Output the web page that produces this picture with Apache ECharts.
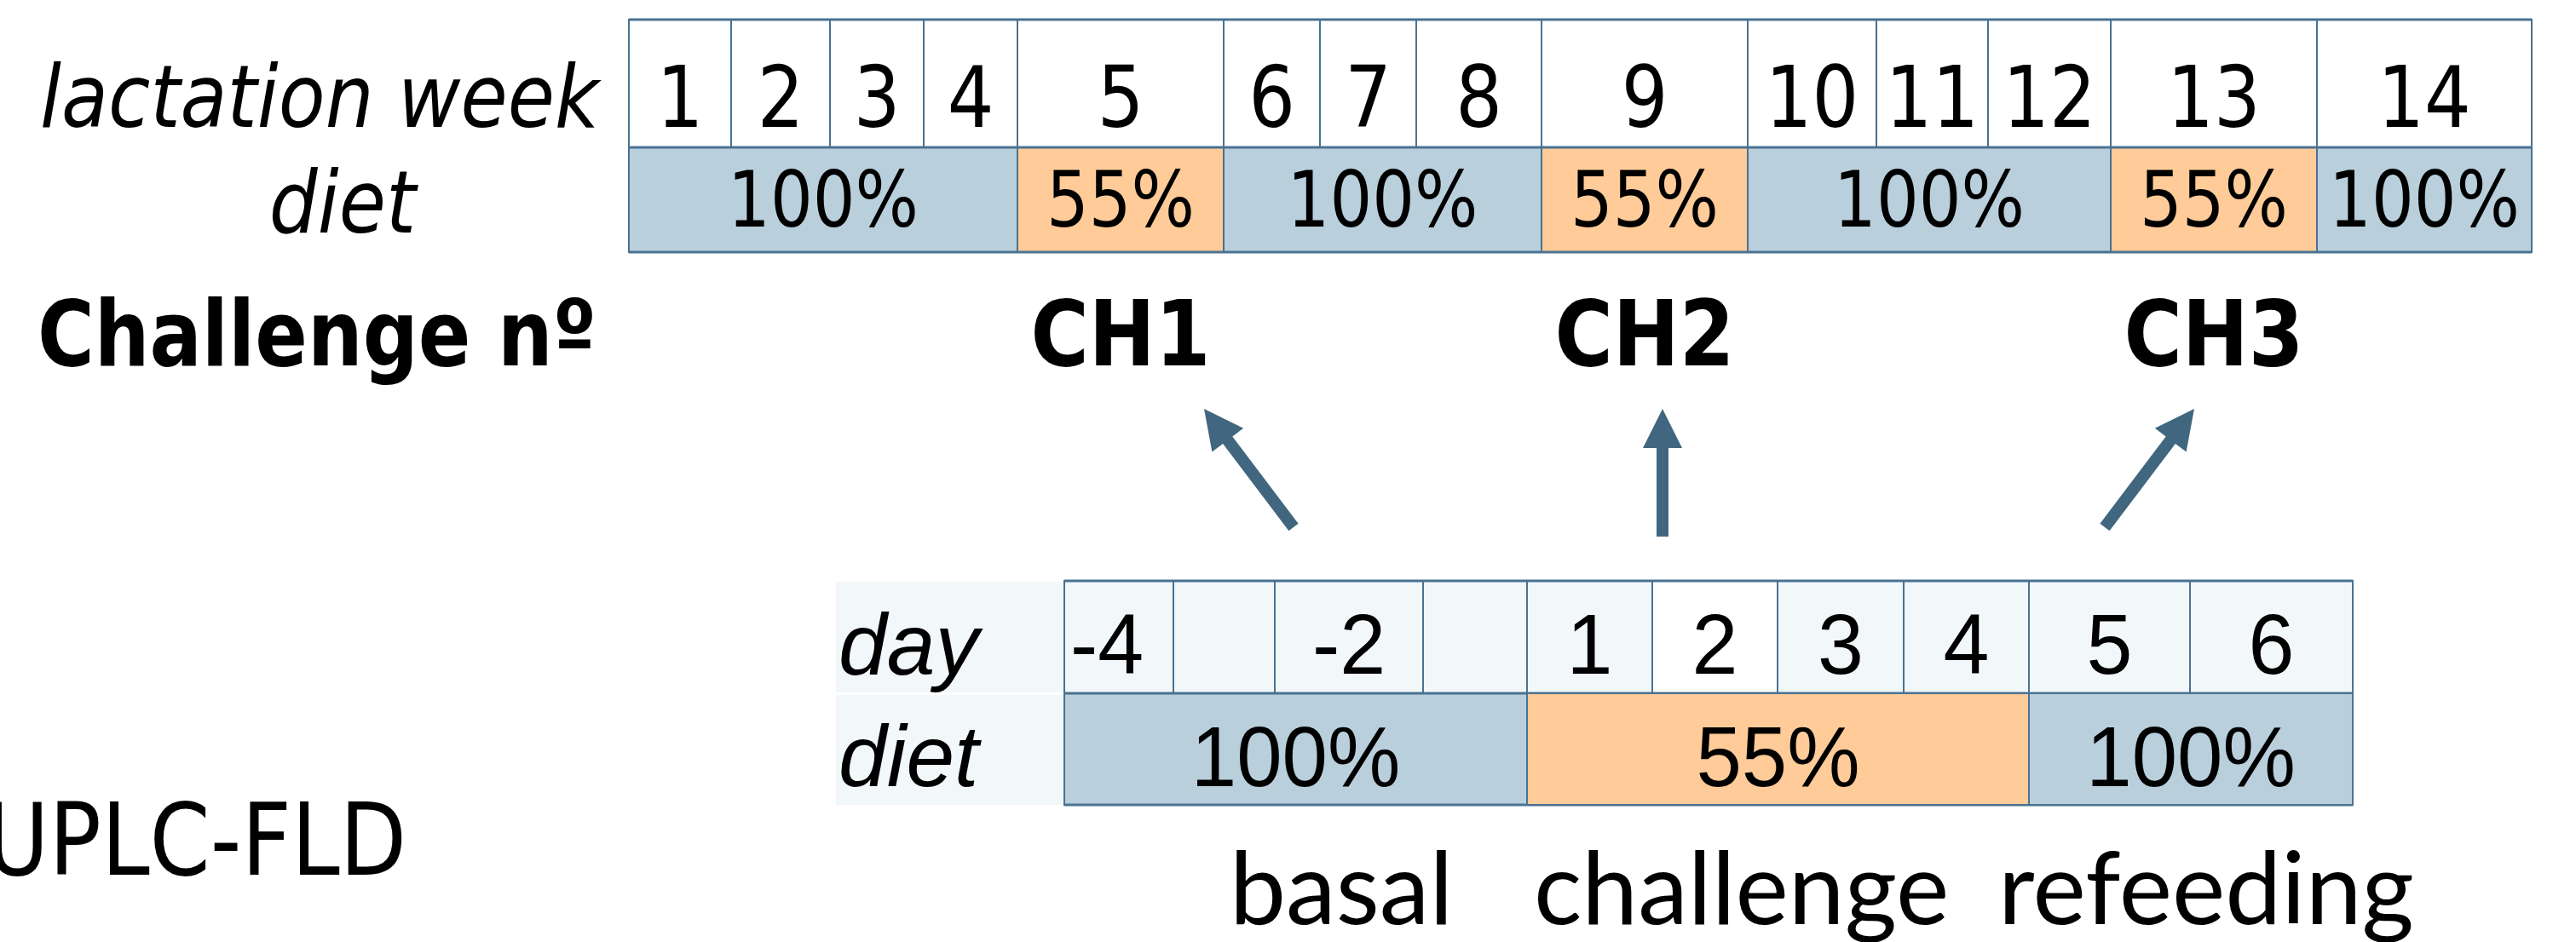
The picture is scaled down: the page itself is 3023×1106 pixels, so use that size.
<!DOCTYPE html>
<html>
<head>
<meta charset="utf-8">
<style>
html,body{margin:0;padding:0;background:#fff;}
#main{width:3023px;height:1106px;}
</style>
<script src="https://cdn.jsdelivr.net/npm/echarts@6/dist/echarts.min.js"></script>
</head>
<body>
<div id="main"></div>
<script>
// ---- data ----
var weeks = ['1','2','3','4','5','6','7','8','9','10','11','12','13','14'];
var weekRowLabels = ['lactation week', 'diet'];
var dietFrom = [1, 5, 6, 9, 10, 13, 14];
var dietTo   = [4, 5, 8, 9, 12, 13, 14];
var dietLevel = ['100%', '55%', '100%', '55%', '100%', '55%', '100%'];
var challenges = ['CH1', 'CH2', 'CH3'];
var challengeWeek = [5, 9, 13];
var days = ['-4', '', '-2', '', '1', '2', '3', '4', '5', '6'];
var dayRowLabels = ['day', 'diet'];
var dayDietFrom = [0, 4, 8];
var dayDietTo   = [3, 7, 9];
var dayDietLevel = ['100%', '55%', '100%'];
var phases = ['basal', 'challenge', 'refeeding'];

// ---- layout (px) ----
var weekEdges = [738, 858, 974, 1084, 1194, 1436, 1549, 1662, 1809, 2051, 2202, 2333, 2477, 2719, 2971];
var topY = [23, 173, 296];
var dayEdges = [1249, 1377, 1496, 1670, 1792, 1939, 2086, 2234, 2381, 2570, 2761];
var botY = [682, 814, 945];
var arrowTail = [[1518, 619], [1951, 630], [2470, 619]];
var arrowTip  = [[1413, 480], [1951, 480], [2575, 480]];
var phaseLeft = [1450, 1807, 2352];

var BORDER = '#4A7291';
var BLUE = '#B9CFDC';
var ORANGE = '#FECB99';
var PALE = '#F2F7FA';
var ARROW = '#40677F';

function fillOf(level) { return level === '55%' ? ORANGE : BLUE; }

function rectEl(api, x0, y0, x1, y1, fill, stroke, lw) {
  var a = api.coord([x0, y0]), b = api.coord([x1, y1]);
  return {
    type: 'rect',
    shape: { x: a[0], y: a[1], width: b[0] - a[0], height: b[1] - a[1] },
    style: { fill: fill, stroke: stroke || null, lineWidth: lw || 0 }
  };
}
function lineEl(api, x0, y0, x1, y1, color, lw) {
  var a = api.coord([x0, y0]), b = api.coord([x1, y1]);
  return {
    type: 'line',
    shape: { x1: a[0], y1: a[1], x2: b[0], y2: b[1] },
    style: { stroke: color, lineWidth: lw }
  };
}
// base = text baseline, size = font size
function textEl(api, x, base, str, font, size, align, sx) {
  var p = api.coord([x, base - 0.3 * size]);
  return {
    type: 'text',
    x: p[0], y: p[1],
    scaleX: sx || 1,
    style: { text: str, x: 0, y: 0, font: font, fill: '#000', align: align || 'center', verticalAlign: 'middle' }
  };
}
function arrowEl(api, tail, tip) {
  var t = api.coord(tail), p = api.coord(tip);
  var dx = p[0] - t[0], dy = p[1] - t[1];
  var len = Math.sqrt(dx * dx + dy * dy);
  var ux = dx / len, uy = dy / len, nx = -uy, ny = ux;
  var hl = 46, hh = 23, sh = 7;
  var bx = p[0] - ux * hl, by = p[1] - uy * hl;
  return {
    type: 'polygon',
    shape: { points: [
      [t[0] + nx * sh, t[1] + ny * sh], [bx + nx * sh, by + ny * sh], [bx + nx * hh, by + ny * hh],
      [p[0], p[1]],
      [bx - nx * hh, by - ny * hh], [bx - nx * sh, by - ny * sh], [t[0] - nx * sh, t[1] - ny * sh]
    ] },
    style: { fill: ARROW }
  };
}
function idx(arr) { return arr.map(function (v, i) { return [i]; }); }

var DV = '"DejaVu Sans"';
var LIB = '"Liberation Sans"';

var option = {
  animation: false,
  backgroundColor: '#ffffff',
  grid: { left: 0, right: 0, top: 0, bottom: 0 },
  xAxis: { type: 'value', min: 0, max: 3023, show: false },
  yAxis: { type: 'value', min: 0, max: 1106, inverse: true, show: false },
  series: [
    { // week cells
      type: 'custom', clip: false, data: idx(weeks),
      renderItem: function (params, api) {
        var i = params.dataIndex;
        var x0 = weekEdges[i], x1 = weekEdges[i + 1];
        return { type: 'group', children: [
          rectEl(api, x0, topY[0], x1, topY[1], '#ffffff', BORDER, 2),
          textEl(api, (x0 + x1) / 2, 153, weeks[i], '100px ' + DV, 100, 'center', 0.86)
        ] };
      }
    },
    { // diet periods (weeks)
      type: 'custom', clip: false, data: idx(dietLevel),
      renderItem: function (params, api) {
        var i = params.dataIndex;
        var x0 = weekEdges[dietFrom[i] - 1], x1 = weekEdges[dietTo[i]];
        return { type: 'group', children: [
          rectEl(api, x0, topY[1], x1, topY[2], fillOf(dietLevel[i]), BORDER, 2),
          textEl(api, (x0 + x1) / 2, 270, dietLevel[i], '90px ' + DV, 90, 'center', 0.87)
        ] };
      }
    },
    { // top row labels + frame lines
      type: 'custom', clip: false, data: idx(weekRowLabels),
      renderItem: function (params, api) {
        var i = params.dataIndex;
        var lx = [375, 402], base = [153, 277];
        var kids = [textEl(api, lx[i], base[i], weekRowLabels[i], 'italic 102px ' + DV, 102, 'center', 0.88)];
        if (i === 0) {
          topY.forEach(function (y) {
            kids.push(lineEl(api, weekEdges[0], y, weekEdges[weekEdges.length - 1], y, BORDER, 3));
          });
        }
        return { type: 'group', children: kids };
      }
    },
    { // challenges + arrows
      type: 'custom', clip: false, data: idx(challenges),
      renderItem: function (params, api) {
        var i = params.dataIndex;
        var w = challengeWeek[i];
        var cx = (weekEdges[w - 1] + weekEdges[w]) / 2;
        var kids = [
          textEl(api, cx, 433, challenges[i], 'bold 107px ' + DV, 107, 'center', 0.87),
          arrowEl(api, arrowTail[i], arrowTip[i])
        ];
        if (i === 0) kids.push(textEl(api, 44, 433, 'Challenge n\u00ba', 'bold 107px ' + DV, 107, 'left', 0.85));
        return { type: 'group', children: kids };
      }
    },
    { // day row labels, pale background
      type: 'custom', clip: false, data: idx(dayRowLabels),
      renderItem: function (params, api) {
        var i = params.dataIndex;
        var kids = [
          rectEl(api, 981, botY[i] + (i ? 2 : 1), dayEdges[0], botY[i + 1] - (i ? 0 : 1), PALE),
          textEl(api, 984, i ? 925 : 794, dayRowLabels[i], 'italic 102px ' + LIB, 102, 'left', 1)
        ];
        return { type: 'group', children: kids };
      }
    },
    { // day cells
      type: 'custom', clip: false, data: idx(days),
      renderItem: function (params, api) {
        var i = params.dataIndex;
        var x0 = dayEdges[i], x1 = dayEdges[i + 1];
        var cx = (x0 + x1) / 2 - (i === 0 ? 14 : 0);
        return { type: 'group', children: [
          rectEl(api, x0, botY[0], x1, botY[1], days[i] === '2' ? '#ffffff' : PALE, BORDER, 2),
          textEl(api, cx, 793, days[i], '100px ' + LIB, 100, 'center', 0.97)
        ] };
      }
    },
    { // diet periods (days)
      type: 'custom', clip: false, data: idx(dayDietLevel),
      renderItem: function (params, api) {
        var i = params.dataIndex;
        var x0 = dayEdges[dayDietFrom[i]], x1 = dayEdges[dayDietTo[i] + 1];
        var kids = [
          rectEl(api, x0, botY[1], x1, botY[2], fillOf(dayDietLevel[i]), BORDER, 2),
          textEl(api, (x0 + x1) / 2, 925, dayDietLevel[i], '100px ' + LIB, 100, 'center', 0.96)
        ];
        if (i === 0) {
          botY.forEach(function (y) {
            kids.push(lineEl(api, dayEdges[0], y, dayEdges[dayEdges.length - 1], y, BORDER, 3));
          });
        }
        return { type: 'group', children: kids };
      }
    },
    { // phase names
      type: 'custom', clip: false, data: idx(phases),
      renderItem: function (params, api) {
        var i = params.dataIndex;
        return textEl(api, phaseLeft[i] - 7, 1082, phases[i], '118px Lato', 118, 'left', 1);
      }
    },
    { // method label
      type: 'custom', clip: false, data: [[0]],
      renderItem: function (params, api) {
        return textEl(api, -17, 1032, 'UPLC-FLD', '117px ' + DV, 117, 'left', 0.87);
      }
    }
  ]
};

var chart = echarts.init(document.getElementById('main'));
chart.setOption(option);
window.addEventListener('resize', function () { chart.resize(); });
</script>
</body>
</html>
